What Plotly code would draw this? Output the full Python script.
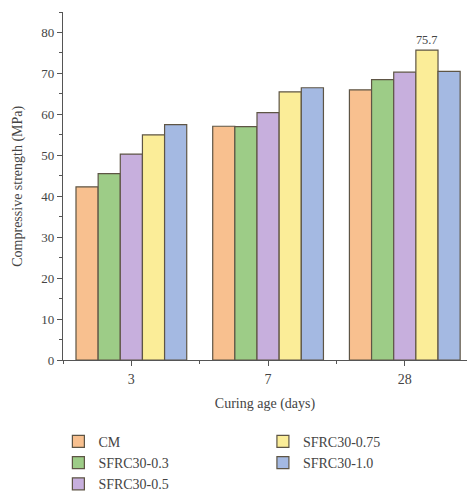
import plotly.graph_objects as go

categories = ["3", "7", "28"]
series_names = ["CM", "SFRC30-0.3", "SFRC30-0.5", "SFRC30-0.75", "SFRC30-1.0"]
cm = [42.3, 57.1, 66.0]
sfrc_03 = [45.5, 57.0, 68.5]
sfrc_05 = [50.3, 60.4, 70.3]
sfrc_075 = [55.0, 65.5, 75.7]
sfrc_10 = [57.5, 66.5, 70.5]
colors = ["#F8C08F", "#9DCC87", "#C7AFDD", "#FBED98", "#A4B9E2"]
legend_ids = ["legend", "legend", "legend", "legend2", "legend2"]
y_title = "Compressive strength (MPa)"
x_title = "Curing age (days)"

values = [cm, sfrc_03, sfrc_05, sfrc_075, sfrc_10]
xpos = list(range(len(categories)))

font_family = "Liberation Serif, Times New Roman, serif"
fig = go.Figure()
for name, vals, col, lg in zip(series_names, values, colors, legend_ids):
    text = [""] * len(vals)
    if name == "SFRC30-0.75":
        text[-1] = f"{vals[-1]:.1f}"
    fig.add_trace(go.Bar(
        x=xpos, y=vals, name=name, legend=lg,
        marker=dict(color=col, line=dict(color="#5E5545", width=1.2)),
        text=text, textposition="outside", cliponaxis=False,
        textfont=dict(family=font_family, size=13, color="#444"),
    ))

fig.update_layout(
    width=467, height=498,
    margin=dict(l=63, r=0, t=12, b=138, autoexpand=False),
    barmode="group", bargap=0.19, bargroupgap=0,
    plot_bgcolor="white", paper_bgcolor="white",
    font=dict(family=font_family, size=13, color="#444"),
    legend=dict(x=0.125, y=0.145, xref="container", yref="container",
                xanchor="left", yanchor="top",
                font=dict(size=14, color="#444"), tracegroupgap=0,
                itemwidth=30, traceorder="normal"),
    legend2=dict(x=0.563, y=0.145, xref="container", yref="container",
                 xanchor="left", yanchor="top",
                 font=dict(size=14, color="#444"), tracegroupgap=0,
                 itemwidth=30, traceorder="normal"),
    annotations=[dict(text=y_title, xref="paper", yref="paper", x=-0.112, y=0.5,
                      textangle=-90, showarrow=False, xanchor="center", yanchor="middle",
                      font=dict(family=font_family, size=14, color="#444"))],
)
fig.update_xaxes(
    range=[-0.5, 2.455], tickmode="array", tickvals=xpos, ticktext=categories,
    showline=True, linecolor="#555", linewidth=1.2, ticks="outside", ticklen=5,
    tickcolor="#555", showgrid=False, zeroline=False, ticklabelstandoff=1,
    automargin=True,
    minor=dict(tickmode="array", tickvals=[-0.5, 0.5, 1.5], ticklen=3,
               tickcolor="#555", ticks="outside", showgrid=False),
    title=dict(text=x_title, standoff=12, font=dict(size=14)),
    tickfont=dict(size=14),
)
fig.update_yaxes(
    range=[0, 85], tickmode="linear", tick0=0, dtick=10,
    showline=True, linecolor="#555", linewidth=1.2, ticks="outside", ticklen=5,
    tickcolor="#555", showgrid=False, zeroline=False, automargin=True,
    minor=dict(dtick=5, tick0=0, ticklen=3, tickcolor="#555", ticks="outside", showgrid=False),
    tickfont=dict(size=13),
)

fig.write_html("out.html")
